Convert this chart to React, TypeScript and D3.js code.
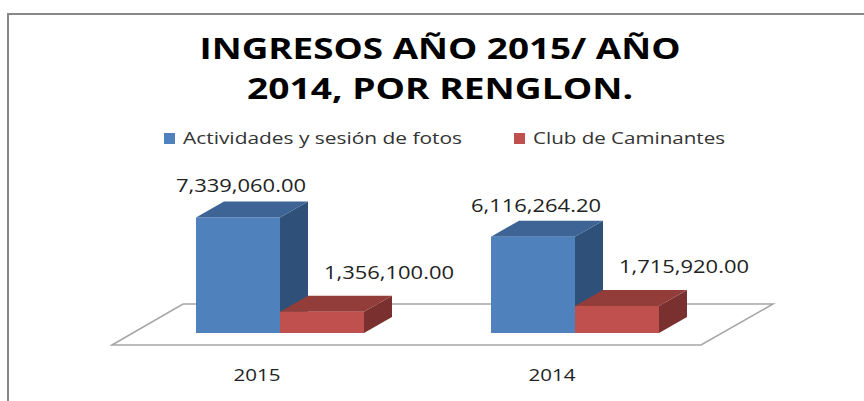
import React from 'react';
import * as d3 from 'd3';

const width = 864, height = 401;

// data
const categories = ['2015', '2014'];
const seriesNames = ['Actividades y sesión de fotos', 'Club de Caminantes'];
const actividades = [7339060.0, 6116264.2];
const caminantes = [1356100.0, 1715920.0];
const titleLines = ['INGRESOS AÑO 2015/ AÑO', '2014, POR RENGLON.'];

const front = ['#4f81bd', '#c0504d'];
const top = ['#3d6494', '#933d3b'];
const side = ['#2f5179', '#7a302e'];

const depth = { dx: 28, dy: -16 };
const baseY = 333;

const fmt = d3.format(',.2f');

const App = () => {
  const xScale = d3.scaleBand<string>()
    .domain(categories)
    .range([196, 659])
    .paddingInner(127 / 295)
    .paddingOuter(0);

  const sScale = d3.scaleBand<string>()
    .domain(seriesNames)
    .range([0, xScale.bandwidth()]);

  const yScale = d3.scaleLinear()
    .domain([0, 8000000])
    .range([baseY, 207]);

  const values = [actividades, caminantes];

  // floor of the 3D plot
  const floor = d3.line()([[112, 345], [183, 304], [773, 304], [701, 345]]) + 'Z';

  const bars: any[] = [];
  categories.forEach((c, ci) => {
    seriesNames.forEach((s, si) => {
      const v = values[si][ci];
      const x0 = (xScale(c) as number) + (sScale(s) as number);
      const x1 = x0 + sScale.bandwidth();
      const y0 = yScale(v);
      bars.push({ c, s, si, v, x0, x1, y0 });
    });
  });

  return <svg width={width} height={height} style={{ position: 'absolute', left: 0, top: 0, background: '#fff' }}
    fontFamily='"Open Sans", sans-serif'>
    {/* border */}
    <rect x={8} y={14} width={900} height={420} fill='#fff' stroke='#878787' strokeWidth={2}></rect>

    {/* title */}
    {titleLines.map((t, i) => (
      <text key={t} x={440} y={59 + i * 40} textAnchor='middle' fontWeight={700} fontSize={28}
        textLength={i === 0 ? 481 : 386} lengthAdjust='spacingAndGlyphs' fill='#000'>{t}</text>
    ))}

    {/* legend */}
    <g className='legend'>
      <rect x={164} y={133} width={11} height={11} fill={front[0]}></rect>
      <text x={183} y={144} fontSize={16} fill='#333' textLength={279} lengthAdjust='spacingAndGlyphs'>{seriesNames[0]}</text>
      <rect x={514} y={133} width={11} height={11} fill={front[1]}></rect>
      <text x={533} y={144} fontSize={16} fill='#333' textLength={192} lengthAdjust='spacingAndGlyphs'>{seriesNames[1]}</text>
    </g>

    {/* floor */}
    <path d={floor} fill='none' stroke='#a6a6a6' strokeWidth={1.5}></path>

    {/* bars, red drawn over blue side */}
    {bars.map(b => {
      const { dx, dy } = depth;
      const topFace = d3.line()([[b.x0, b.y0], [b.x0 + dx, b.y0 + dy], [b.x1 + dx, b.y0 + dy], [b.x1, b.y0]]) + 'Z';
      const sideFace = d3.line()([[b.x1, b.y0], [b.x1 + dx, b.y0 + dy], [b.x1 + dx, baseY + dy], [b.x1, baseY]]) + 'Z';
      return <g key={b.c + b.s}>
        <path d={sideFace} fill={side[b.si]}></path>
        <path d={topFace} fill={top[b.si]}></path>
        <rect x={b.x0} y={b.y0} width={b.x1 - b.x0} height={baseY - b.y0} fill={front[b.si]}></rect>
      </g>
    })}

    {/* value labels */}
    {bars.map(b => {
      const cx = (b.x0 + b.x1) / 2;
      const lx = b.si === 0 ? cx + 3 : cx + 67;
      const ly = b.si === 0 ? b.y0 - 25 : b.y0 - 33;
      return <text key={'l' + b.c + b.s} x={lx} y={ly} textAnchor='middle' fontSize={18} fill='#222'
        textLength={130} lengthAdjust='spacingAndGlyphs'>{fmt(b.v)}</text>
    })}

    {/* category labels */}
    {categories.map(c => (
      <text key={c} x={(xScale(c) as number) + 61} y={381} textAnchor='middle' fontSize={16.5} fill='#222'
        textLength={47} lengthAdjust='spacingAndGlyphs'>{c}</text>
    ))}
  </svg>
}

export default App;
